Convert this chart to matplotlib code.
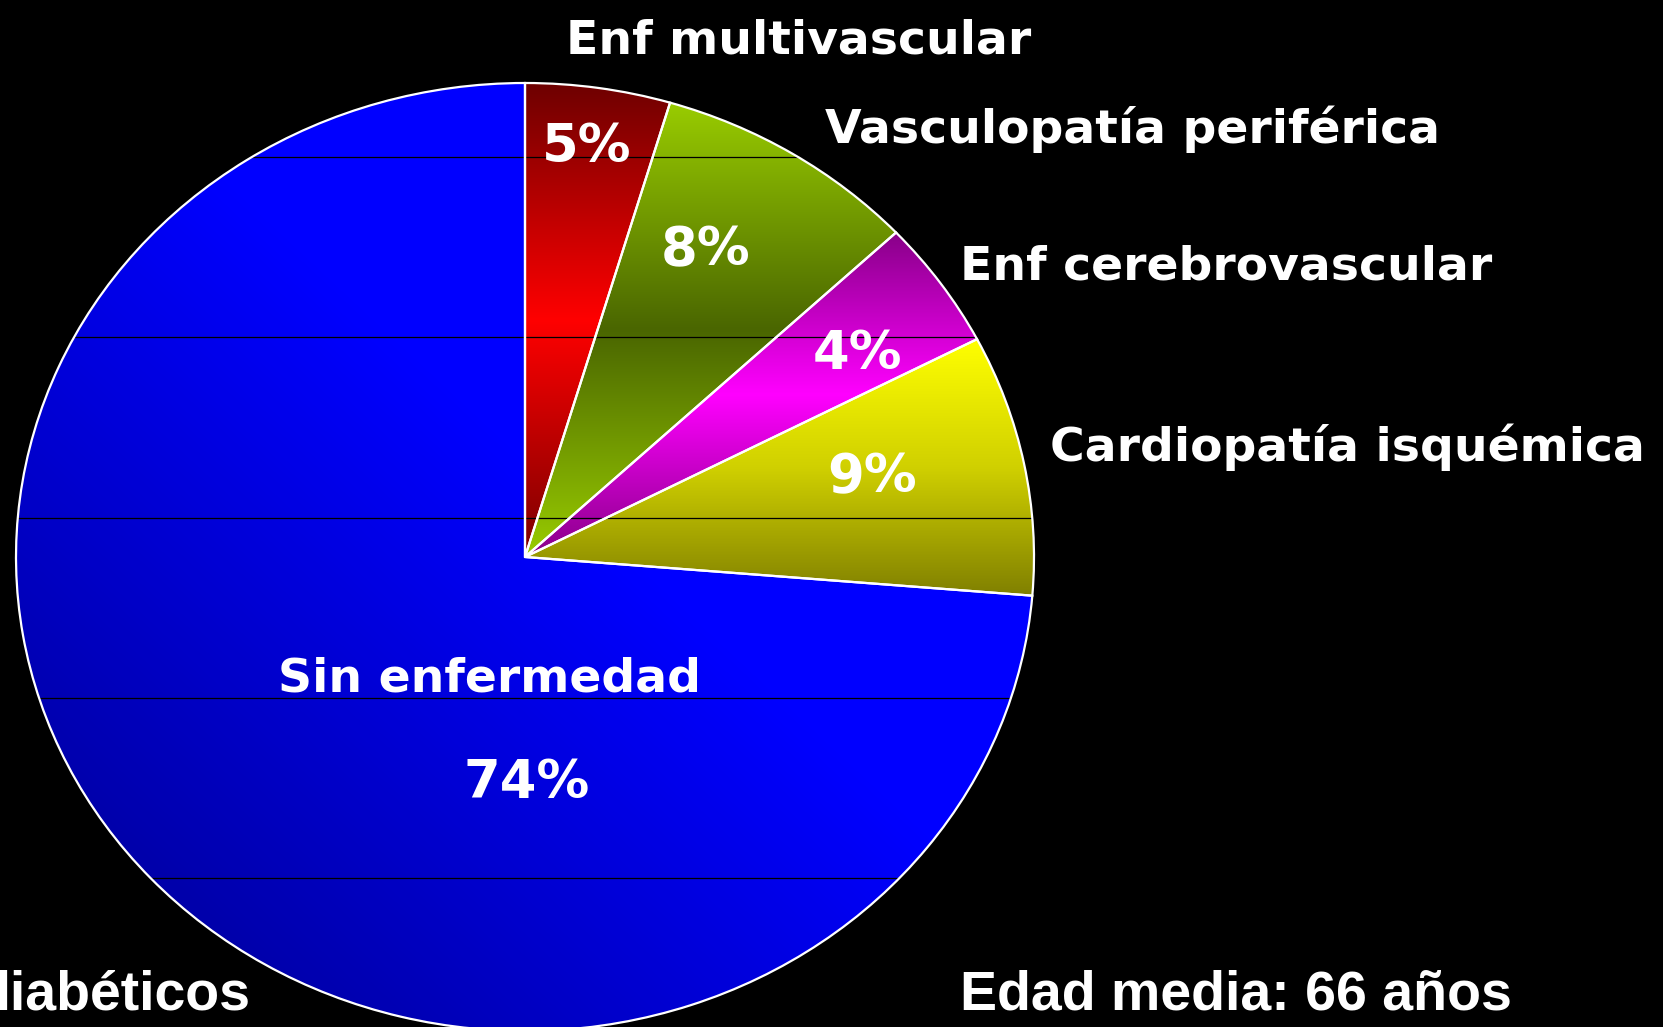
import numpy as np
import matplotlib
matplotlib.use('Agg')
import matplotlib.pyplot as plt
from matplotlib.colors import LinearSegmentedColormap

# slices, clockwise from 12 o'clock
categories = ['Enf multivascular', 'Vasculopatía periférica', 'Enf cerebrovascular',
              'Cardiopatía isquémica', 'Sin enfermedad']
shares = [4.6, 8.4, 4.4, 8.9, 73.7]
pct_labels = ['5%', '8%', '4%', '9%', '74%']
footer_left = 'diabéticos'
footer_right = 'Edad media: 66 años'

# gradient stops per slice (top -> middle -> bottom), blue one is diagonal
grad_colors = [
    ['#6e0000', '#ff0000', '#7a0000'],
    ['#99cc00', '#4a6600', '#99cc00'],
    ['#880088', '#ff00ff', '#880088'],
    ['#ffff00', '#d0d000', '#808000'],
    ['#00008c', '#0000ff', '#0000ff'],
]

W, H = 1663, 1027
fig = plt.figure(figsize=(W / 100, H / 100), dpi=100, facecolor='black')
ax = fig.add_axes([0, 0, 1, 1])
ax.set_facecolor('black')

wedges, _ = ax.pie(shares, startangle=90, counterclock=False, radius=1,
                   wedgeprops=dict(edgecolor='white', linewidth=1.6, zorder=3))

n = 256
for i, (w, cols) in enumerate(zip(wedges, grad_colors)):
    w.set_facecolor('none')
    ext = w.get_path().get_extents()
    if i == len(wedges) - 1:
        u = np.linspace(0, 1, n)
        Z = 0.5 * u[None, :] + 0.5 * (1 - u[:, None])
        cmap = LinearSegmentedColormap.from_list('g%d' % i, [(0, cols[0]), (0.55, cols[1]), (1, cols[2])])
    else:
        Z = np.linspace(0, 1, n).reshape(-1, 1)
        cmap = LinearSegmentedColormap.from_list('g%d' % i, cols)
    im = ax.imshow(Z, cmap=cmap, extent=(ext.x0, ext.x1, ext.y0, ext.y1),
                   origin='upper', aspect='auto', interpolation='bilinear', zorder=1)
    im.set_clip_path(w)

# thin horizontal grid lines over the pie
for gy in [0.844, 0.464, 0.082, -0.297, -0.677]:
    ax.axhline(gy, color='black', lw=0.9, zorder=2)

ax.set_aspect('auto')
ax.set_xlim(-525 / 509, (W - 525) / 509)
ax.set_ylim(-(H - 557) / 474, 557 / 474)
ax.axis('off')


def put(x, y, s, size, ha='left', family='DejaVu Sans'):
    fig.text(x / W, 1 - y / H, s, ha=ha, va='baseline', color='white',
             fontsize=size, fontweight='bold', family=family, zorder=5)


put(799, 53, categories[0], 34, ha='center')
put(825, 143, categories[1], 34)
put(960, 279, categories[2], 34)
put(1050, 461, categories[3], 34)
put(490, 692, categories[4], 34, ha='center')

put(587, 162, pct_labels[0], 38, ha='center')
put(706, 265, pct_labels[1], 38, ha='center')
put(857, 369, pct_labels[2], 38, ha='center')
put(872, 492, pct_labels[3], 38, ha='center')
put(527, 798, pct_labels[4], 38, ha='center')

footer_font = ['Liberation Sans', 'DejaVu Sans']
put(251, 1010, footer_left, 40, ha='right', family=footer_font)
put(960, 1010, footer_right, 40, family=footer_font)

fig.savefig('out.png', dpi=100, facecolor='black')
